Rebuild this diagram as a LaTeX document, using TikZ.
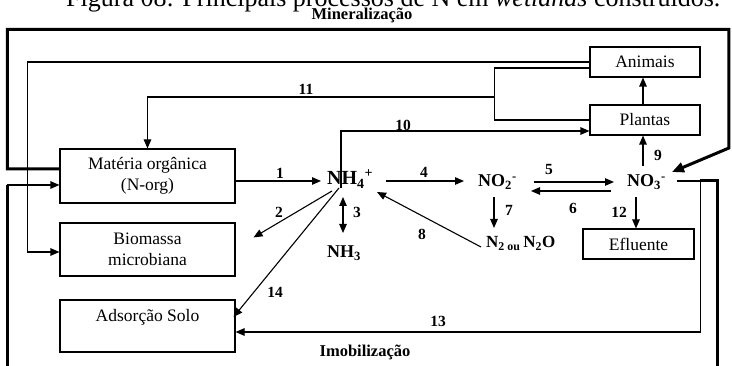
\documentclass[tikz,border=0pt]{standalone}
\usepackage{fontspec}
\setmainfont{Liberation Serif}
\usetikzlibrary{arrows.meta,calc}
\begin{document}
\begin{tikzpicture}[x=1pt,y=-1pt,
  box/.style={draw, line width=1.1pt, minimum width=175pt, minimum height=54pt,
    inner sep=0pt, align=center, font=\fontsize{17.5}{21}\selectfont},
  sbox/.style={draw, line width=1.1pt, minimum width=110pt, minimum height=30pt,
    inner sep=0pt, font=\fontsize{17.5}{21}\selectfont},
  chem/.style={inner sep=0pt, anchor=base west, font=\bfseries\fontsize{18}{20}\selectfont},
  num/.style={inner sep=0pt, font=\bfseries\fontsize{15.5}{17}\selectfont},
  title/.style={inner sep=0pt, anchor=base, font=\bfseries\fontsize{16.5}{18}\selectfont},
  link/.style={line width=1.1pt},
  flow/.style={line width=1.1pt, -{Triangle[length=9pt,width=7.5pt]}},
  heavy/.style={line width=3pt},
]
\useasboundingbox (0,0) rectangle (732,366);

% caption line running above the figure
\node[anchor=base west, inner sep=0pt, font=\fontsize{26}{28}\selectfont] (cap) at (66,6.5)
  {Figura 08: Principais processos de N em \textit{wetlands} construídos.};

% boxes
\node[box] (mo) at (147.5,176) {Matéria orgânica\\(N-org)};
\node[box, minimum height=53pt] (bio) at (147.5,249.5) {Biomassa\\microbiana};
\node[box, minimum height=52pt] (ads) at (147.5,326) {Adsorção Solo\\\mbox{}};
\node[sbox] (ani) at (645,62) {Animais};
\node[sbox] (pla) at (645,120) {Plantas};
\node[sbox, minimum width=111pt] (efl) at (638.5,244) {Efluente};

% nitrogen species
\node[chem, font=\bfseries\fontsize{20}{22}\selectfont] (nh4) at (327,185) {NH\textsubscript{4}\textsuperscript{+}};
\node[chem] (nh3) at (327,258) {NH\textsubscript{3}};
\node[chem] (no2) at (478,187) {NO\textsubscript{2}\textsuperscript{-}};
\node[chem] (no3) at (627,187) {NO\textsubscript{3}\textsuperscript{-}};
\node[chem, font=\bfseries\fontsize{17}{20}\selectfont] (n2o) at (486,248) {N\textsubscript{2 ou}\,N\textsubscript{2}O};

% headings of the two loops
\node[title] (mine) at (362,20) {Mineralização};
\node[title] (imob) at (365,357) {Imobilização};

% mineralisation loop (heavy)
\draw[heavy, -{Triangle[length=12pt,width=10pt]}] ($(mo.west)+(0,-7)$) -- ++(-52,0) -- ++(0,-139.5)
  -- ++(721.5,0) -- ++(0,118.5) -- ($(no3.base west)+(45,-15)$);

% immobilisation loop (heavy, runs below the frame)
\draw[heavy] ($(no3.base west)+(73,-6)$) -- ++(17,0) -- ++(0,200);
\draw[heavy] ($(mo.west)+(-52,205)$) -- ($(mo.west)+(-52,9)$);
\draw[flow] ($(mo.west)+(-52,9)$) -- ($(mo.west)+(0,9)$);

% Animais to Biomassa microbiana
\draw[flow] (ani.west) -- ++(-562,0) |- ($(bio.west)+(0,2.5)$);

% 11
\draw[link] ($(ani.west)+(0,6)$) -| ($(pla.west)+(-95,0)$) -- (pla.west);
\draw[flow] ($(pla.west)+(-95,-23)$) -| (mo.north);

% 10
\draw[flow] ($(nh4.base west)+(14,3)$) |- ($(pla.west)+(0,11)$);

% Plantas to Animais
\draw[flow] ($(pla.north)+(-2,0)$) -- ($(ani.south)+(-2,0)$);

% 1
\draw[flow] ($(mo.east)+(0,5)$) -- ($(nh4.base west)+(-6,-4)$);
% 2
\draw[flow] ($(nh4.base west)+(5,6)$) -- ($(bio.north east)+(18,15)$);
% 14
\draw[flow] ($(nh4.base west)+(12,3)$) -- ($(ads.east)+(-2,-9)$);
% 3
\draw[line width=1.1pt, {Triangle[length=9pt,width=7.5pt]}-{Triangle[length=9pt,width=7.5pt]}]
  ($(nh4.base west)+(16,12)$) -- ($(nh3.base west)+(16,-25)$);
% 4
\draw[flow] ($(nh4.base west)+(59,-4)$) -- ($(no2.base west)+(-14,-6)$);
% 5
\draw[flow] ($(no2.base west)+(56,-5)$) -- ($(no3.base west)+(-13,-5)$);
% 6
\draw[flow] ($(no3.base west)+(-16,4)$) -- ($(no2.base west)+(53,4)$);
% 7
\draw[flow] ($(no2.base west)+(16,10)$) -- ($(n2o.base west)+(8,-20)$);
% 8
\draw[flow] ($(n2o.base west)+(-5,-1)$) -- ($(nh4.base west)+(50,7)$);
% 9
\draw[flow] ($(no3.base west)+(16,-21)$) -- ($(pla.south)+(-2,0)$);
% 12
\draw[flow] ($(no3.base west)+(9,10)$) -- ($(efl.north)+(-2.5,0)$);
% 13
\draw[flow] ($(no3.base west)+(50,-6)$) -| ($(ads.east)+(465,6)$) -- ($(ads.east)+(0,6)$);

% process numbers
\node[num] (n1) at (280,173) {1};
\node[num] (n2) at (279,212) {2};
\node[num] (n3) at (357,212) {3};
\node[num] (n4) at (424,172) {4};
\node[num] (n5) at (549,170) {5};
\node[num] (n6) at (573,208) {6};
\node[num] (n7) at (509,210) {7};
\node[num] (n8) at (422,234) {8};
\node[num] (n9) at (658,155) {9};
\node[num] (n10) at (403,125) {10};
\node[num] (n11) at (306,89) {11};
\node[num] (n12) at (619,212) {12};
\node[num] (n13) at (438,321) {13};
\node[num] (n14) at (275,292) {14};
\end{tikzpicture}
\end{document}
